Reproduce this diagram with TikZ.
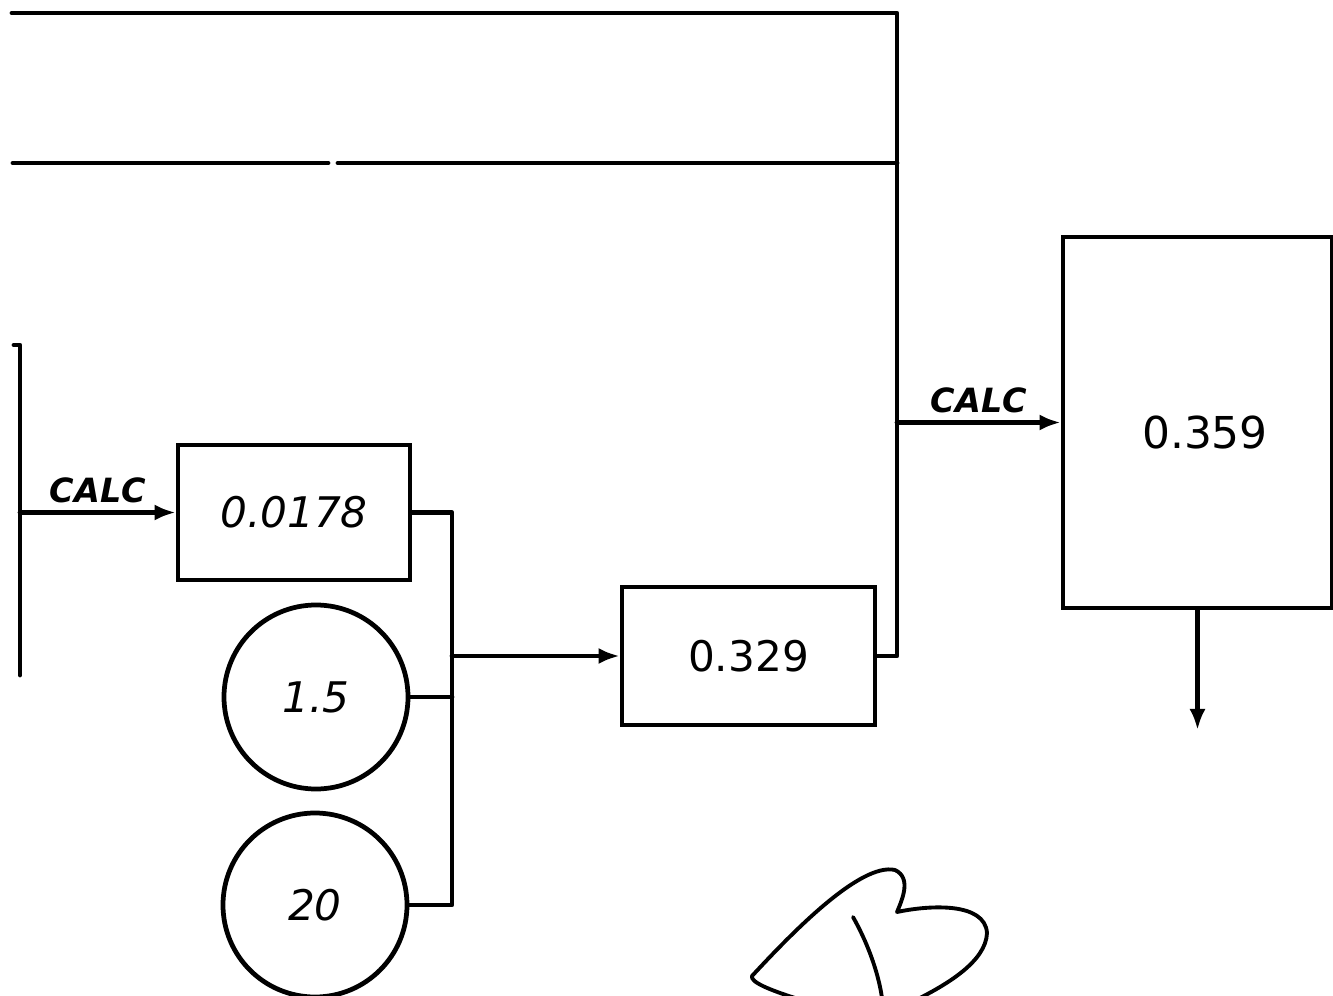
\documentclass[tikz,border=0pt]{standalone}
\usepackage{fontspec}
\setmainfont{DejaVu Sans}
\usetikzlibrary{arrows.meta}
\tikzset{
  wire/.style={line width=1.35pt, line cap=round, line join=round},
  flow/.style={wire, -{Latex[length=6pt,width=4.6pt]}},
  blk/.style={draw, line width=1.35pt, rectangle, inner sep=0pt, font=\fontsize{12}{14}\selectfont},
  cst/.style={draw, line width=1.35pt, circle, inner sep=0pt, minimum size=1.84cm, font=\fontsize{12}{14}\selectfont\itshape},
  lbl/.style={font=\fontsize{9.5}{11}\selectfont\bfseries\itshape, inner sep=2pt}
}
\begin{document}
\begin{tikzpicture}
\useasboundingbox (0,0) rectangle (13.33,-9.96);
% blocks
\node[blk, minimum width=2.32cm, minimum height=1.35cm, font=\fontsize{12}{14}\selectfont\itshape] (b1) at (2.94,-5.125) {0.0178};
\node[blk, minimum width=2.53cm, minimum height=1.38cm] (b2) at (7.485,-6.56) {0.329};
\node[blk, minimum width=2.69cm, minimum height=3.71cm] (b3) at (11.975,-4.225) {};
\node[font=\fontsize{12.5}{14}\selectfont] (t3) at (12.05,-4.33) {0.359};
\node[cst] (c1) at (3.16,-6.97) {1.5};
\node[cst] (c2) at (3.15,-9.05) {20};
% coordinates
\coordinate (bb) at (4.52,-9.05);
\coordinate (tr) at (8.97,-0.13);
\coordinate (tl) at (0.12,-0.13);
\coordinate (ml) at (0.13,-1.63);
\coordinate (g1) at (3.28,-1.63);
\coordinate (g2) at (3.38,-1.63);
\coordinate (lh) at (0.14,-3.45);
\coordinate (lt) at (0.2,-3.45);
\coordinate (lb) at (0.2,-6.75);
\coordinate (out) at (11.975,-7.30);
% connectors
\draw[wire] (lh) -- (lt) -- (lb);
\draw[flow] (b1.west -| lt) -- (b1.west) node[lbl, midway, above] {CALC};
\draw[wire] (b1.east) -| (bb) -- (c2.east);
\draw[wire] (c1.east) -- (c1.east -| bb);
\draw[flow] (b2.west -| bb) -- (b2.west);
\draw[wire] (b2.east) -| (tr) -- (tl);
\draw[wire] (ml -| tr) -- (g2);
\draw[wire] (g1) -- (ml);
\draw[flow] (b3.west -| tr) -- (b3.west) node[lbl, midway, above] {CALC};
\draw[flow] (b3.south) -- (out);
% handwritten mark
\draw[line width=1.1pt, line cap=round, line join=round]
  (7.95,-9.98) .. controls (7.7,-9.9) and (7.5,-9.82) .. (7.52,-9.76)
  .. controls (7.9,-9.35) and (8.6,-8.62) .. (8.95,-8.70)
  .. controls (9.12,-8.78) and (9.02,-9.0) .. (8.97,-9.12)
  .. controls (9.3,-9.05) and (9.85,-9.02) .. (9.87,-9.33)
  .. controls (9.86,-9.62) and (9.45,-9.85) .. (9.2,-9.98);
\draw[line width=1.1pt, line cap=round] (8.53,-9.17) .. controls (8.66,-9.4) and (8.78,-9.7) .. (8.82,-9.98);
\end{tikzpicture}
\end{document}
